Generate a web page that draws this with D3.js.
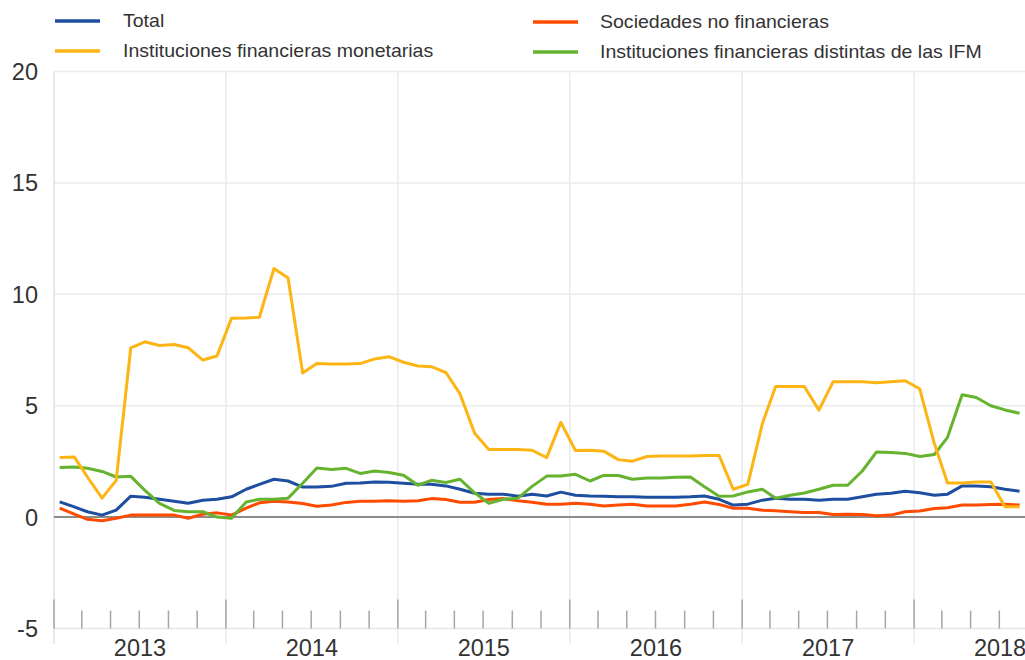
<!DOCTYPE html>
<html>
<head>
<meta charset="utf-8">
<script src="https://cdn.jsdelivr.net/npm/d3@7"></script>
<style>
  html, body { margin: 0; padding: 0; background: #fff; }
  svg { display: block; overflow: hidden; }
  text { font-family: "Liberation Sans", Arial, sans-serif; fill: #333; }
</style>
</head>
<body>
<svg width="1025" height="660"></svg>
<script>
// monthly observations, Jan 2013 .. Aug 2018
var startYear = 2013, startMonth = 0;

var total = [0.68, 0.46, 0.24, 0.09, 0.31, 0.94, 0.89, 0.8, 0.71, 0.62, 0.76, 0.8,
    0.91, 1.25, 1.47, 1.7, 1.62, 1.35, 1.35, 1.38, 1.52, 1.53, 1.58, 1.56,
    1.52, 1.47, 1.47, 1.4, 1.25, 1.07, 1.03, 1.03, 0.94, 1.03, 0.95, 1.12,
    0.98, 0.95, 0.94, 0.91, 0.91, 0.89, 0.89, 0.89, 0.91, 0.95, 0.8, 0.54,
    0.58, 0.76, 0.85, 0.8, 0.8, 0.76, 0.8, 0.8, 0.91, 1.03, 1.07, 1.16,
    1.09, 0.98, 1.03, 1.4, 1.4, 1.36, 1.25, 1.16];

var ifm = [2.67, 2.7, 1.8, 0.85, 1.65, 7.6, 7.87, 7.7, 7.75, 7.6, 7.05, 7.23,
    8.93, 8.94, 8.97, 11.16, 10.73, 6.47, 6.89, 6.87, 6.87, 6.89, 7.1, 7.2,
    6.95, 6.78, 6.75, 6.49, 5.53, 3.76, 3.03, 3.03, 3.03, 3.0, 2.67, 4.25,
    2.99, 3.0, 2.96, 2.58, 2.51, 2.72, 2.74, 2.74, 2.74, 2.77, 2.77, 1.25,
    1.47, 4.2, 5.86, 5.86, 5.86, 4.8, 6.07, 6.07, 6.07, 6.03, 6.08, 6.12,
    5.76, 3.3, 1.53, 1.53, 1.58, 1.58, 0.46, 0.46];

var snf = [0.4, 0.13, -0.1, -0.16, -0.05, 0.09, 0.09, 0.09, 0.09, -0.05, 0.13, 0.19,
    0.09, 0.4, 0.64, 0.71, 0.68, 0.61, 0.49, 0.54, 0.66, 0.71, 0.71, 0.73,
    0.71, 0.73, 0.83, 0.79, 0.67, 0.67, 0.79, 0.83, 0.73, 0.67, 0.58, 0.58,
    0.62, 0.58, 0.5, 0.54, 0.58, 0.5, 0.5, 0.5, 0.58, 0.68, 0.57, 0.4,
    0.4, 0.31, 0.28, 0.24, 0.21, 0.21, 0.12, 0.13, 0.12, 0.06, 0.09, 0.24,
    0.27, 0.39, 0.42, 0.54, 0.54, 0.57, 0.58, 0.54];

var noIfm = [2.23, 2.25, 2.19, 2.05, 1.8, 1.83, 1.2, 0.62, 0.3, 0.24, 0.24, 0,
    -0.05, 0.68, 0.8, 0.8, 0.85, 1.52, 2.2, 2.14, 2.19, 1.96, 2.07, 2.0,
    1.88, 1.43, 1.65, 1.55, 1.7, 1.09, 0.62, 0.8, 0.85, 1.38, 1.84, 1.84,
    1.92, 1.62, 1.87, 1.87, 1.7, 1.76, 1.76, 1.79, 1.8, 1.36, 0.94, 0.95,
    1.13, 1.25, 0.85, 0.98, 1.08, 1.25, 1.43, 1.43, 2.07, 2.92, 2.9, 2.86,
    2.72, 2.81, 3.58, 5.49, 5.37, 5.0, 4.81, 4.66];

var seriesNames = ["Total", "Instituciones financieras monetarias",
    "Sociedades no financieras", "Instituciones financieras distintas de las IFM"];
var seriesColors = ["#1d4e9f", "#fdb515", "#ff4b00", "#65b32e"];
var yTicks = [-5, 0, 5, 10, 15, 20];
var yearLabels = ["2013", "2014", "2015", "2016", "2017", "2018"];

var svg = d3.select("svg");

var x = d3.scaleTime()
    .domain([new Date(2013, 0, 1), new Date(2019, 0, 1)])
    .range([54, 1086]);
var y = d3.scaleLinear().domain([-5, 20]).range([628.5, 71.5]);

function dateOf(i) {
    return new Date(startYear, startMonth + i, 13);
}

// horizontal grid
svg.append("g")
    .selectAll("line")
    .data(yTicks.filter(function(d) { return d !== 0 && d !== -5; }))
    .enter().append("line")
    .attr("x1", 54).attr("x2", 1086)
    .attr("y1", function(d) { return y(d); })
    .attr("y2", function(d) { return y(d); })
    .attr("stroke", "#ebebeb")
    .attr("stroke-width", 1.5);

// vertical year grid
var years = d3.timeYear.range(new Date(2013, 0, 1), new Date(2019, 0, 1));
svg.append("g")
    .selectAll("line")
    .data(years)
    .enter().append("line")
    .attr("x1", function(d) { return x(d); })
    .attr("x2", function(d) { return x(d); })
    .attr("y1", y(20)).attr("y2", 644)
    .attr("stroke", function(d, i) { return i === 0 ? "#e2e2e2" : "#ebebeb"; })
    .attr("stroke-width", 1.5);

// bottom axis line
svg.append("line")
    .attr("x1", 54).attr("x2", 1086)
    .attr("y1", y(-5)).attr("y2", y(-5))
    .attr("stroke", "#e6e6e6").attr("stroke-width", 1.5);

// zero line
svg.append("line")
    .attr("x1", 54).attr("x2", 1086)
    .attr("y1", y(0)).attr("y2", y(0))
    .attr("stroke", "#8c8c8c").attr("stroke-width", 2);

// ticks: major each year, minor every two months
var minor = d3.timeMonth.every(2).range(new Date(2013, 0, 1), new Date(2019, 0, 1));
svg.append("g")
    .selectAll("line")
    .data(minor)
    .enter().append("line")
    .attr("x1", function(d) { return x(d); })
    .attr("x2", function(d) { return x(d); })
    .attr("y1", function(d) { return d.getMonth() === 0 ? y(-5) - 29 : y(-5) - 18; })
    .attr("y2", y(-5))
    .attr("stroke", "#a6a6a6")
    .attr("stroke-width", 1.5);

// y labels
svg.append("g")
    .selectAll("text")
    .data(yTicks)
    .enter().append("text")
    .attr("x", 38)
    .attr("y", function(d) { return y(d); })
    .attr("dy", "0.36em")
    .attr("text-anchor", "end")
    .style("font-size", "23.5px")
    .text(function(d) { return d; });

// year labels, centred in each year
svg.append("g")
    .selectAll("text")
    .data(yearLabels)
    .enter().append("text")
    .attr("x", function(d) {
        var a = new Date(+d, 0, 1), b = new Date(+d + 1, 0, 1);
        return (x(a) + x(b)) / 2;
    })
    .attr("y", 656)
    .attr("text-anchor", "middle")
    .style("font-size", "23.5px")
    .text(function(d) { return d; });

// lines
var allSeries = [total, ifm, snf, noIfm];
var line = d3.line()
    .x(function(d, i) { return x(dateOf(i)); })
    .y(function(d) { return y(d); });

var drawOrder = [2, 0, 3, 1];
svg.append("g")
    .selectAll("path")
    .data(drawOrder)
    .enter().append("path")
    .attr("d", function(k) { return line(allSeries[k]); })
    .attr("fill", "none")
    .attr("stroke", function(k) { return seriesColors[k]; })
    .attr("stroke-width", 3)
    .attr("stroke-linejoin", "round");

// legend
var legendPos = [[55, 21], [55, 51], [533, 22], [533, 52]];
var legend = svg.append("g")
    .selectAll("g")
    .data(seriesNames)
    .enter().append("g")
    .attr("transform", function(d, i) {
        return "translate(" + legendPos[i][0] + "," + legendPos[i][1] + ")";
    });

legend.append("line")
    .attr("x1", 0).attr("x2", 45)
    .attr("stroke", function(d, i) { return seriesColors[i]; })
    .attr("stroke-width", 3.5);

legend.append("text")
    .attr("transform", function(d, i) {
        return "translate(" + (i < 2 ? 68 : 67) + ",0) scale(1.085,1)";
    })
    .attr("dy", "0.35em")
    .style("font-size", "18px")
    .text(function(d) { return d; });
</script>
</body>
</html>
